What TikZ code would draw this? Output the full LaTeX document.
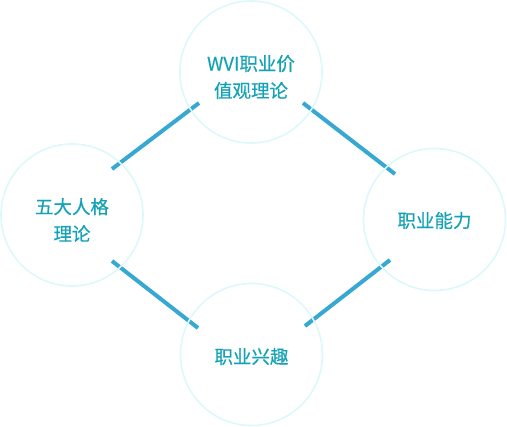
\documentclass[tikz,border=0pt]{standalone}
\usepackage{fontspec}
\newfontfamily\cjk[BoldFont={Noto Sans CJK SC}, BoldFeatures={FakeBold=0.5}]{Noto Sans CJK SC}
\usetikzlibrary{positioning, backgrounds}
\definecolor{ringcol}{HTML}{DDF8FB}
\definecolor{linkcol}{HTML}{36A8D1}
\definecolor{textcol}{HTML}{14A2B6}
\tikzstyle{topic} = [circle, draw=ringcol, line width=1.6pt, minimum size=142pt, inner sep=0pt]
\tikzstyle{caption} = [align=center, text=textcol, font=\cjk\bfseries\fontsize{18.5}{27}\selectfont, yshift=-5pt]
\tikzstyle{link} = [draw=linkcol, line width=4pt]
\begin{document}
\begin{tikzpicture}[x=1pt, y=-1pt]
   \useasboundingbox (0,0) rectangle (507,427);

   % four circles
   \node[topic, label={[caption]center:WVI职业价\\值观理论}] (values) at (251,72) {};
   \node[topic, label={[caption]center:五大人格\\理论}] (bigfive) at (72,215) {};
   \node[topic, label={[caption, yshift=4pt]center:职业能力}] (ability) at (434.5,219.5) {};
   \node[topic, label={[caption, yshift=3pt]center:职业兴趣}] (interest) at (251.5,354.5) {};

   % ends of the links
   \coordinate (v1) at ([shift={(-52,31)}]values.center);
   \coordinate (v2) at ([shift={(52,31)}]values.center);
   \coordinate (b1) at ([shift={(40,-46)}]bigfive.center);
   \coordinate (b2) at ([shift={(40,46)}]bigfive.center);
   \coordinate (a1) at ([shift={(-39.5,-45.5)}]ability.center);
   \coordinate (a2) at ([shift={(-44.5,40.5)}]ability.center);
   \coordinate (i1) at ([shift={(-53.5,-26.5)}]interest.center);
   \coordinate (i2) at ([shift={(53.5,-28.5)}]interest.center);

   % links under the rings
   \begin{scope}[on background layer]
      \draw[link] (b1) -- (v1);
      \draw[link] (v2) -- (a1);
      \draw[link] (a2) -- (i2);
      \draw[link] (b2) -- (i1);
   \end{scope}

\end{tikzpicture}
\end{document}
